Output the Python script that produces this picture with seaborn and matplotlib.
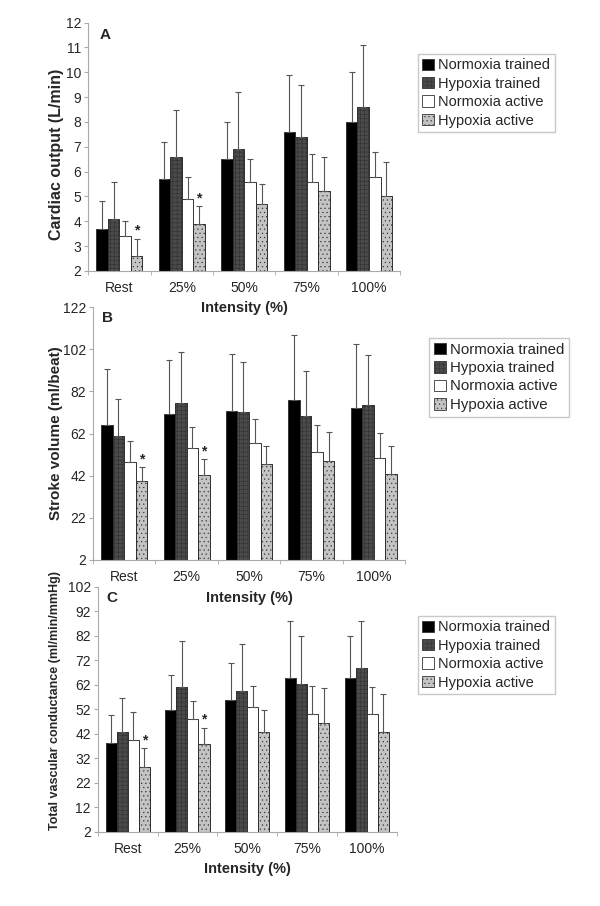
import numpy as np
import pandas as pd
import matplotlib
matplotlib.use("Agg")
import matplotlib.pyplot as plt
import seaborn as sns

# =========================
# Data
# =========================

intensity = ["Rest", "25%", "50%", "75%", "100%"]
groups = ["Normoxia trained", "Hypoxia trained", "Normoxia active", "Hypoxia active"]

# Cardiac output (L/min): mean and top of error bar
co_nt = [3.7, 5.7, 6.5, 7.6, 8.0]
co_ht = [4.1, 6.6, 6.9, 7.4, 8.6]
co_na = [3.4, 4.9, 5.6, 5.6, 5.8]
co_ha = [2.6, 3.9, 4.7, 5.2, 5.0]
co_nt_top = [4.8, 7.2, 8.0, 9.9, 10.0]
co_ht_top = [5.6, 8.5, 9.2, 9.5, 11.1]
co_na_top = [4.0, 5.8, 6.5, 6.7, 6.8]
co_ha_top = [3.3, 4.6, 5.5, 6.6, 6.4]

# Stroke volume (ml/beat)
sv_nt = [65.9, 71.5, 72.9, 77.8, 74.3]
sv_ht = [60.6, 76.7, 72.0, 70.1, 75.4]
sv_na = [48.7, 54.9, 57.7, 53.0, 50.2]
sv_ha = [39.4, 42.3, 47.3, 49.1, 42.7]
sv_nt_top = [92.5, 96.9, 99.6, 108.7, 104.6]
sv_ht_top = [78.6, 100.7, 95.8, 91.7, 99.4]
sv_na_top = [58.5, 65.2, 68.8, 66.0, 62.3]
sv_ha_top = [45.9, 49.7, 56.2, 62.5, 56.0]

# Total vascular conductance (ml/min/mmHg)
tvc_nt = [38.4, 51.9, 56.0, 64.7, 64.7]
tvc_ht = [43.0, 61.1, 59.5, 62.4, 68.8]
tvc_na = [39.6, 48.3, 53.1, 50.0, 50.0]
tvc_ha = [28.4, 37.8, 43.0, 46.5, 43.0]
tvc_nt_top = [49.8, 66.0, 71.1, 88.1, 82.2]
tvc_ht_top = [56.7, 80.0, 78.9, 81.9, 88.1]
tvc_na_top = [50.8, 55.6, 61.6, 61.6, 61.3]
tvc_ha_top = [36.2, 44.6, 51.6, 60.7, 58.3]

# significance marks (Hypoxia active)
star_idx = [0, 1]

colors = ["#000000", "#4a4a4a", "#ffffff", "#c4c4c4"]
hatches = [None, "++++", None, "...."]


def make_df(series, tops):
    rows = []
    for g, vals, tv in zip(groups, series, tops):
        for cat, v, t in zip(intensity, vals, tv):
            rows.append({"intensity": cat, "group": g, "value": v, "top": t})
    return pd.DataFrame(rows)


panels = [
    dict(
        df=make_df([co_nt, co_ht, co_na, co_ha],
                   [co_nt_top, co_ht_top, co_na_top, co_ha_top]),
        ylim=(2, 12), ticks=np.arange(2, 13, 1),
        ylabel="Cardiac output (L/min)", ylab_size=11.5, ylab_xy=(-0.078, 0.47),
        letter="A", letter_xy=(0.054, 0.952),
        rect=[0.147, 0.701, 0.520, 0.274],
        leg=(418, 54), leg_size=10.5, star_off=0.05,
    ),
    dict(
        df=make_df([sv_nt, sv_ht, sv_na, sv_ha],
                   [sv_nt_top, sv_ht_top, sv_na_top, sv_ha_top]),
        ylim=(2, 122), ticks=np.arange(2, 123, 20),
        ylabel="Stroke volume (ml/beat)", ylab_size=11, ylab_xy=(-0.096, 0.5),
        letter="B", letter_xy=(0.045, 0.957),
        rect=[0.155, 0.382, 0.520, 0.279],
        leg=(429, 338), leg_size=10.8, star_off=0.6,
    ),
    dict(
        df=make_df([tvc_nt, tvc_ht, tvc_na, tvc_ha],
                   [tvc_nt_top, tvc_ht_top, tvc_na_top, tvc_ha_top]),
        ylim=(2, 102), ticks=np.arange(2, 103, 10),
        ylabel="Total vascular conductance (ml/min/mmHg)", ylab_size=9,
        ylab_xy=(-0.124, 0.535),
        letter="C", letter_xy=(0.047, 0.955),
        rect=[0.163, 0.0817, 0.498, 0.2704],
        leg=(418, 616), leg_size=10.5, star_off=0.5,
    ),
]


# =========================
# Style
# =========================

sns.set_style("white")
plt.rcParams["font.family"] = ["Liberation Sans", "DejaVu Sans"]
plt.rcParams["hatch.linewidth"] = 0.35

fig = plt.figure(figsize=(6, 9.06), dpi=100)


for p in panels:
    ax = fig.add_axes(p["rect"])
    ax.patch.set_alpha(0)
    df = p["df"]

    sns.barplot(
        data=df,
        x="intensity",
        y="value",
        hue="group",
        order=intensity,
        hue_order=groups,
        palette=colors,
        width=0.74,
        gap=0,
        errorbar=None,
        edgecolor="#333333",
        linewidth=0.7,
        legend=False,
        ax=ax,
    )

    bar_conts = list(ax.containers)

    # error bars (upper only) + hatching
    for gi, cont in enumerate(bar_conts):
        sub = df[df.group == groups[gi]].set_index("intensity").loc[intensity]
        xs = [b.get_x() + b.get_width() / 2 for b in cont]
        ys = sub["value"].values
        ups = sub["top"].values - ys
        for b in cont:
            if hatches[gi]:
                b.set_hatch(hatches[gi])
                b.set_edgecolor("#2e2e2e")
        ax.errorbar(
            xs, ys,
            yerr=[np.zeros_like(ups), ups],
            fmt="none",
            ecolor="#555555",
            elinewidth=0.8,
            capsize=2.2,
            capthick=0.8,
            zorder=1,
        )
        if gi == 3:
            for i in star_idx:
                ax.text(
                    xs[i], sub["top"].values[i] + p["star_off"], "*",
                    ha="center", va="bottom",
                    fontsize=10, fontweight="bold",
                )

    ax.set_ylim(*p["ylim"])
    ax.set_yticks(p["ticks"])
    ax.set_xlim(-0.5, 4.5)
    ax.set_xticks(np.arange(-0.5, 5, 1), minor=True)

    ax.tick_params(axis="x", which="major", length=0, labelsize=10, pad=7)
    ax.tick_params(axis="x", which="minor", length=3, color="#aaaaaa",
                   direction="out", bottom=True)
    ax.tick_params(axis="y", length=3, color="#aaaaaa", labelsize=10,
                   direction="out", left=True, pad=2)

    sns.despine(ax=ax)
    for s in ["left", "bottom"]:
        ax.spines[s].set_color("#aaaaaa")
        ax.spines[s].set_linewidth(0.8)

    ax.set_ylabel(p["ylabel"], fontsize=p["ylab_size"], fontweight="bold")
    ax.yaxis.set_label_coords(*p["ylab_xy"])

    ax.set_xlabel("Intensity (%)", fontsize=10.5, fontweight="bold")
    ax.xaxis.label.set_va("center")
    ax.xaxis.set_label_coords(0.5, -0.15)

    ax.text(p["letter_xy"][0], p["letter_xy"][1], p["letter"],
            transform=ax.transAxes, fontsize=11, fontweight="bold",
            ha="center", va="center")

    # legend
    handles = [
        plt.Rectangle((0, 0), 1, 1, facecolor=c, edgecolor="#333333",
                      linewidth=0.6, hatch=h)
        for c, h in zip(colors, hatches)
    ]
    lx, ly = p["leg"]
    fig.legend(
        handles, groups,
        loc="upper left",
        bbox_to_anchor=(lx / 600, 1 - ly / 906),
        fontsize=p["leg_size"],
        frameon=True,
        fancybox=False,
        edgecolor="#bbbbbb",
        handlelength=0.8,
        handleheight=0.8,
        handletextpad=0.3,
        labelspacing=0.3,
        borderpad=0.3,
        borderaxespad=0,
    )


plt.savefig("out.png", dpi=100)
